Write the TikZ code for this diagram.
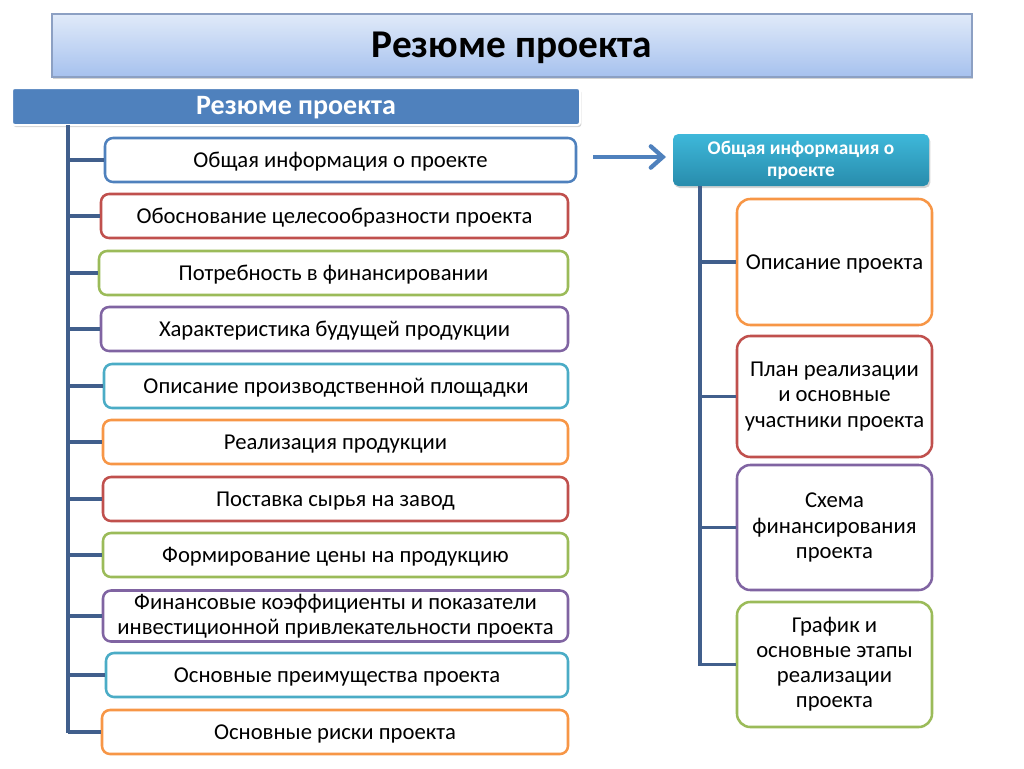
\documentclass[tikz,border=0pt]{standalone}
\usepackage{fontspec}
\setmainfont{Carlito}
\usetikzlibrary{arrows.meta,shadows}
\definecolor{cblue}{RGB}{79,129,189}
\definecolor{cred}{RGB}{192,80,77}
\definecolor{cgreen}{RGB}{155,187,89}
\definecolor{cpurple}{RGB}{128,100,162}
\definecolor{caqua}{RGB}{75,172,198}
\definecolor{corange}{RGB}{247,150,70}
\definecolor{cline}{RGB}{65,95,140}
\definecolor{ttop}{RGB}{224,234,249}
\definecolor{tbot}{RGB}{166,193,238}
\definecolor{tborder}{RGB}{140,160,195}
\definecolor{htop}{RGB}{62,184,218}
\definecolor{hbot}{RGB}{40,140,172}
\tikzset{
  lbox/.style={draw, fill=white, rounded corners=6pt, line width=1.9pt, inner sep=0pt, align=center, font=\fontsize{17}{18.5}\selectfont},
  rbox/.style={draw, fill=white, rounded corners=10pt, line width=1.9pt, inner sep=0pt, align=center, font=\fontsize{17}{18.8}\selectfont},
  oneline/.style={text height=14.5pt, text depth=3.4pt},
  treeline/.style={draw=cline, line width=2.6pt},
}
\begin{document}
\begin{tikzpicture}[x=0.75pt,y=-0.75pt]
\useasboundingbox (0,0) rectangle (1024,768);
% title
\node[draw=tborder, line width=0.8pt, top color=ttop, bottom color=tbot, minimum width=920*0.75pt, minimum height=63*0.75pt, inner sep=0pt,
  drop shadow={shadow xshift=1pt, shadow yshift=-1.5pt, opacity=0.35}, font=\fontsize{29.5}{32}\selectfont\bfseries,
  text height=23.6pt, text depth=5.9pt]
  (title) at (512,45.5) {Резюме проекта};
% header bar
\node[draw=white, line width=1.5pt, fill=cblue, rounded corners=2pt, minimum width=568*0.75pt, minimum height=37*0.75pt, inner sep=0pt,
  drop shadow={shadow xshift=1pt, shadow yshift=-1.5pt, opacity=0.35}, text=white, font=\fontsize{21}{24}\selectfont\bfseries,
  text height=16.8pt, text depth=4.2pt]
  (hdr) at (296,106.5) {Резюме проекта};
% left boxes
\node[lbox, oneline, draw=cblue,   minimum width=471*0.75pt, minimum height=44*0.75pt] (b1)  at (340.5,160) {Общая информация о проекте};
\node[lbox, oneline, draw=cred,    minimum width=467*0.75pt, minimum height=44*0.75pt] (b2)  at (334.5,216) {Обоснование целесообразности проекта};
\node[lbox, oneline, draw=cgreen,  minimum width=469*0.75pt, minimum height=44*0.75pt] (b3)  at (333.5,273) {Потребность в финансировании};
\node[lbox, oneline, draw=cpurple, minimum width=467*0.75pt, minimum height=44*0.75pt] (b4)  at (334.5,329) {Характеристика будущей продукции};
\node[lbox, oneline, draw=caqua,   minimum width=464*0.75pt, minimum height=44*0.75pt] (b5)  at (336,386) {Описание производственной площадки};
\node[lbox, oneline, draw=corange, minimum width=465*0.75pt, minimum height=44*0.75pt] (b6)  at (335.5,442) {Реализация продукции};
\node[lbox, oneline, draw=cred,    minimum width=465*0.75pt, minimum height=44*0.75pt] (b7)  at (335.5,499) {Поставка сырья на завод};
\node[lbox, oneline, draw=cgreen,  minimum width=465*0.75pt, minimum height=44*0.75pt] (b8)  at (335.5,555) {Формирование цены на продукцию};
\node[lbox, draw=cpurple, minimum width=465*0.75pt, minimum height=51*0.75pt] (b9)  at (335.5,616) {Финансовые коэффициенты и показатели\\инвестиционной привлекательности проекта};
\node[lbox, oneline, draw=caqua,   minimum width=462*0.75pt, minimum height=44*0.75pt] (b10) at (337,675) {Основные преимущества проекта};
\node[lbox, oneline, draw=corange, minimum width=466*0.75pt, minimum height=44*0.75pt] (b11) at (335,732) {Основные риски проекта};
% left tree
\coordinate (lt) at (68,125);
\coordinate (lb) at (68,733);
\draw[treeline] (lt) -- (lb);
\foreach \n in {b1,b2,b3,b4,b5,b6,b7,b8,b9,b10,b11}{
  \draw[treeline] (lt |- \n.west) -- (\n.west);
}
% right header
\node[rounded corners=4pt, top color=htop, bottom color=hbot, minimum width=256*0.75pt, minimum height=52*0.75pt, inner sep=0pt,
  drop shadow={shadow xshift=1pt, shadow yshift=-1.5pt, opacity=0.35}, text=white, align=center,
  font=\fontsize{14.5}{16.5}\selectfont\bfseries] (rh) at (801,160) {Общая информация о\\проекте};
% arrow
\coordinate (as) at (593,157);
\coordinate (ae) at (666,157);
\draw[draw=cblue, line width=3.2pt, -{Straight Barb[length=9pt,width=16pt,line cap=round]}] (as) -- (ae);
% right boxes
\node[rbox, oneline, draw=corange, minimum width=195*0.75pt, minimum height=126*0.75pt] (r1) at (834.5,262) {Описание проекта};
\node[rbox, draw=cred,    minimum width=195*0.75pt, minimum height=121*0.75pt] (r2) at (834.5,396.5) {План реализации\\и основные\\участники проекта};
\node[rbox, draw=cpurple, minimum width=195*0.75pt, minimum height=125*0.75pt] (r3) at (834.5,527.5) {Схема\\финансирования\\проекта};
\node[rbox, draw=cgreen,  minimum width=195*0.75pt, minimum height=125*0.75pt] (r4) at (834.5,664.5) {График и\\основные этапы\\реализации\\проекта};
% right tree
\coordinate (rt) at (700,186);
\coordinate (rb) at (700,666);
\draw[treeline] (rt) -- (rb);
\foreach \n in {r1,r2,r3,r4}{
  \draw[treeline] (rt |- \n.west) -- (\n.west);
}
\end{tikzpicture}
\end{document}
